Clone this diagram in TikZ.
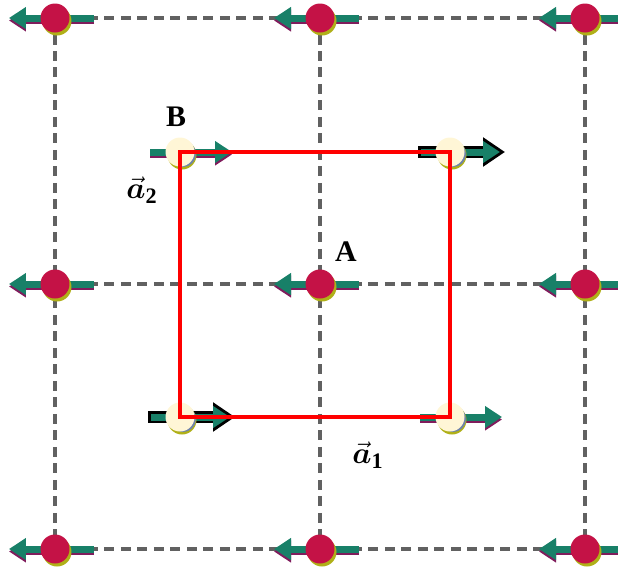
\documentclass[tikz,border=0pt]{standalone}
\usepackage{bm}
\usepackage{fontspec}
\setmainfont{Liberation Serif}
\usetikzlibrary{arrows.meta}

\definecolor{spinteal}{RGB}{24,128,104}
\definecolor{spinshade}{RGB}{128,28,92}
\definecolor{siteA}{RGB}{196,18,70}
\definecolor{siteB}{RGB}{255,246,214}
\definecolor{siterim}{RGB}{176,176,24}
\definecolor{sitebluish}{RGB}{110,130,170}

\tikzset{
  gridline/.style={draw=black!62, line width=0.065cm, dash pattern=on 0.2cm off 0.13cm},
  spin/.style={line width=0.14cm, -{Triangle[length=0.34cm,width=0.42cm]}},
  spinedge/.style={black, line width=0.24cm, -{Triangle[length=0.44cm,width=0.56cm]}},
  redsite/.style={circle, fill=siteA, minimum size=0.58cm, inner sep=0pt},
  creamsite/.style={circle, fill=siteB, minimum size=0.58cm, inner sep=0pt},
  cell/.style={draw=red, line width=0.09cm},
  lbl/.style={font=\fontsize{17}{19}\selectfont\bfseries, inner sep=0pt},
  veclbl/.style={font=\fontsize{18}{20}\selectfont, inner sep=0pt}
}

\begin{document}
\begin{tikzpicture}[x=0.02cm, y=-0.02cm]
  \useasboundingbox (0,0) rectangle (618,569);

  % lattice points
  \foreach \x/\i in {55/1,320/2,585/3}
    \foreach \y/\j in {18/1,284/2,549/3}
      \coordinate (r\i\j) at (\x,\y);
  \coordinate (c11) at (180,152);
  \coordinate (c21) at (450,152);
  \coordinate (c12) at (180,417);
  \coordinate (c22) at (450,417);

  % dashed lattice
  \foreach \i in {1,2,3} {
    \draw[gridline] (r\i1) -- (r\i3);
    \draw[gridline] (r1\i) -- (r3\i);
  }

  % spins pointing left
  \foreach \p in {r11,r21,r31,r12,r22,r32,r13,r23,r33} {
    \draw[spin, spinshade] ([shift={(39,2.5)}]\p) -- ([shift={(-46,2.5)}]\p);
    \draw[spin, spinteal] ([shift={(39,0)}]\p) -- ([shift={(-46,0)}]\p);
  }

  % spins pointing right
  \foreach \p in {c11,c22} {
    \draw[spin, spinshade] ([shift={(-30,2.5)}]\p) -- ([shift={(52,2.5)}]\p);
    \draw[spin, spinteal] ([shift={(-30,0)}]\p) -- ([shift={(52,0)}]\p);
  }
  \foreach \p in {c21,c12} {
    \draw[spinedge] ([shift={(-32,0)}]\p) -- ([shift={(55,0)}]\p);
    \draw[spin, spinteal] ([shift={(-29,0)}]\p) -- ([shift={(50,0)}]\p);
  }

  % sites
  \foreach \p in {r11,r21,r31,r12,r22,r32,r13,r23,r33} {
    \fill[siterim] ([shift={(2,3)}]\p) circle (0.29cm);
    \node[redsite] (s\p) at (\p) {};
  }
  \foreach \p in {c11,c21,c12,c22} {
    \fill[siterim] ([shift={(2,3)}]\p) circle (0.29cm);
    \fill[sitebluish] ([shift={(3,2)}]\p) circle (0.26cm);
    \node[creamsite] (s\p) at (\p) {};
  }

  % unit cell
  \draw[cell] (sc11.center) -- (sc21.center) -- (sc22.center) -- (sc12.center) -- cycle;

  % labels
  \node[lbl] (labB) at (176,117) {B};
  \node[lbl] (labA) at (346,252) {A};
  \node[veclbl] (laba2) at (142,190) {$\vec{\bm{a}}_{\mathbf{2}}$};
  \node[veclbl] (laba1) at (368,455) {$\vec{\bm{a}}_{\mathbf{1}}$};
\end{tikzpicture}
\end{document}
